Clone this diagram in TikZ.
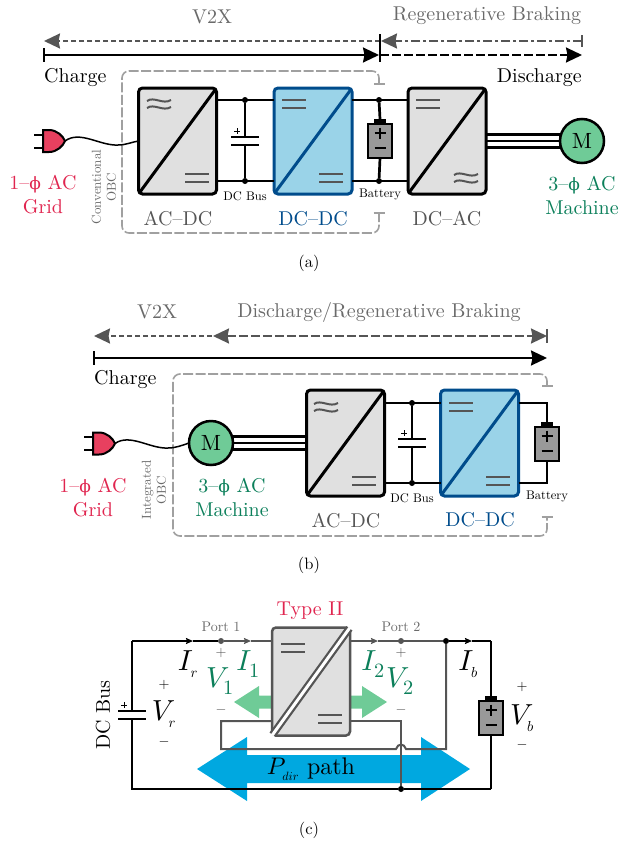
\RequirePackage{fix-cm}
\documentclass[tikz,border=0pt]{standalone}
\usepackage[no-math]{fontspec}
\setmainfont{lmroman10-regular}[Extension=.otf]
\newfontfamily\phifont{DejaVu Serif}
\DeclareFontShape{OML}{cmm}{m}{it}{<->cmmi10}{}
\DeclareFontShape{OT1}{cmr}{m}{n}{<->cmr10}{}
\newcommand{\phiglyph}{{\phifont\scalebox{.85}{ϕ}}}
\newcommand{\subl}[1]{_{\lower2.5pt\hbox{$\scriptscriptstyle #1$}}}
\newcommand{\subn}[1]{_{\lower2.5pt\hbox{$\scriptstyle #1$}}}
\usetikzlibrary{arrows.meta,calc}
\definecolor{convgray}{HTML}{E0E0E0}
\definecolor{dkgray}{HTML}{555555}
\definecolor{obcgray}{HTML}{A0A0A0}
\definecolor{lblgray}{HTML}{6A6A6A}
\definecolor{dcblue}{HTML}{004C8C}
\definecolor{dcfill}{HTML}{9AD3E8}
\definecolor{gridred}{HTML}{E0254F}
\definecolor{plugred}{HTML}{E8405F}
\definecolor{machgreen}{HTML}{0B7F5A}
\definecolor{motorgreen}{HTML}{6FCB97}
\definecolor{pathblue}{HTML}{00A8E0}
\definecolor{batgray}{HTML}{999999}
\tikzset{
 x=1pt,y=-1pt,
 conv/.style={draw=black,line width=3pt,rounded corners=4pt,fill=convgray,minimum width=78pt,minimum height=106pt,inner sep=0pt,outer sep=0pt},
 convb/.style={conv,draw=dcblue,fill=dcfill},
 diag/.style={line width=3pt,shorten >=1pt,shorten <=1pt},
 sym/.style={draw=dkgray,line width=2pt},
 wire/.style={line width=2.7pt,draw=black},
 thinwire/.style={line width=2pt,draw=black},
 gwire/.style={line width=2pt,draw=dkgray},
 jdot/.style={circle,fill=black,inner sep=0pt,minimum size=6pt},
 gdot/.style={circle,fill=dkgray,inner sep=0pt,minimum size=6pt},
 txt/.style={font=\fontsize{20}{24}\selectfont,align=center,inner sep=0pt},
 tiny/.style={font=\fontsize{12.5}{15}\selectfont,align=center,inner sep=0pt},
 port/.style={font=\fontsize{14}{15}\selectfont,text=lblgray,inner sep=0pt},
 obctxt/.style={font=\fontsize{13}{15}\selectfont,text=lblgray,align=center,inner sep=0pt,rotate=90},
 eqn/.style={font=\fontsize{29}{32}\selectfont,inner sep=0pt},
 pm/.style={font=\fontsize{14}{16}\selectfont,inner sep=0pt},
 motor/.style={circle,draw=black,line width=2.5pt,fill=motorgreen,minimum size=44pt,inner sep=0pt,outer sep=0pt,font=\fontsize{22}{24}\selectfont},
 batbody/.style={draw=black,line width=1.2pt,fill=batgray,minimum width=24pt,minimum height=34pt,inner sep=0pt,outer sep=0pt},
 batcap/.style={fill=black,minimum width=12.5pt,minimum height=5pt,inner sep=0pt,outer sep=0pt,anchor=south},
 obcline/.style={draw=obcgray,line width=1.6pt,dash pattern=on 10pt off 2.5pt,rounded corners=7pt,{Bar[width=11pt,line width=1.6pt]}-{Bar[width=11pt,line width=1.6pt]}},
 bigtip/.tip={Stealth[length=16pt,width=15pt,inset=1.5pt]},
 smalltip/.tip={Stealth[length=7pt,width=6pt,inset=1pt]},
 flow/.style={line width=2pt,draw=black},
 gflow/.style={line width=2pt,draw=dkgray,text=dkgray,color=dkgray},
}
\newcommand{\acmark}[2]{\begin{scope}[shift={(#1,#2)}]
 \draw[sym] (-12,-3) .. controls (-5,-8) and (4,1) .. (12,-4);
 \draw[sym] (-12,4) .. controls (-5,-1) and (4,8) .. (12,3);
\end{scope}}
\newcommand{\dcmark}[2]{\begin{scope}[shift={(#1,#2)}]
 \draw[sym] (-12,-4) -- (12,-4);
 \draw[sym] (-12,4) -- (12,4);
\end{scope}}
\newcommand{\batsym}[3]{\node[batbody] (#1) at (#2,#3) {};
 \node[batcap] (#1cap) at (#1.north) {};
 \begin{scope}[shift={(#2,#3)}]
 \draw[line width=1.1pt] (-5.5,-8) -- (5.5,-8) (0,-13.5) -- (0,-2.5);
 \draw[line width=1.1pt] (-5.5,7) -- (5.5,7);
 \end{scope}}
\newcommand{\plugsym}[3]{\begin{scope}[shift={(#2,#3)}]
 \draw[line width=2pt] (-9,-6.5) -- (0,-6.5) (-9,6.5) -- (0,6.5);
 \draw[line width=2pt,fill=plugred] (0,-11) -- (6,-11) .. controls (14,-11) and (20,-5) .. (22,0) .. controls (20,5) and (14,11) .. (6,11) -- (0,11) -- cycle;
 \coordinate (#1) at (22,0);
\end{scope}}
\newcommand{\capsym}[3]{\begin{scope}[shift={(#2,#3)}]
 \draw[line width=2.5pt] (-14,-4) -- (14,-4) (-14,4) -- (14,4);
 \coordinate (#1t) at (0,-4); \coordinate (#1b) at (0,4);
 \draw[line width=.8pt] (-11,-10) -- (-5,-10) (-8,-13) -- (-8,-7);
\end{scope}}
\begin{document}
\begin{tikzpicture}
\useasboundingbox (0,0) rectangle (619,841);
% ---------- (a)
\coordinate (a0) at (44,55); \coordinate (am) at (380,55); \coordinate (a1) at (582,55);
\coordinate (v0) at (44,41); \coordinate (vm) at (380,41); \coordinate (v1) at (582,41);
\node[txt,text=lblgray] (aV) at (212,17) {V2X};
\node[txt,text=lblgray] (aR) at (487,16) {Regenerative Braking};
\draw[gflow,dash pattern=on 5pt off 3pt,-bigtip] (vm) -- (v0);
\draw[gflow,dash pattern=on 9pt off 3pt on 3pt off 3pt,-bigtip] (v1) -- ([xshift=1pt]vm);
\draw[gflow] ($(v1)+(0,-6)$) -- ($(v1)+(0,6)$);
\draw[flow,-bigtip] (a0) -- ([xshift=-1pt]am);
\draw[flow] ($(a0)+(0,-7)$) -- ($(a0)+(0,7)$);
\draw[flow,dash pattern=on 9pt off 3pt,-bigtip] (am) -- (a1);
\draw[line width=1.5pt] (380,34) -- (380,62);
\node[txt,anchor=west] (aC) at (44,78) {Charge};
\node[txt,anchor=east] (aD) at (582,78) {Discharge};
\draw[obcline] (379,85) -- (379,71) -- (122,71) -- (122,233) -- (379,233) -- (379,212);
\node[obctxt] (aO) at (104,187) {Conventional\\OBC};
\node[conv] (ad) at (177.5,141) {};
\node[convb] (dd) at (313,141) {};
\node[conv] (da) at (447,141) {};
\draw[diag] (ad.south west) -- (ad.north east);
\draw[diag,draw=dcblue] (dd.south west) -- (dd.north east);
\draw[diag] (da.south west) -- (da.north east);
\acmark{159}{104}\dcmark{197}{178}
\dcmark{294}{104}\dcmark{331}{178}
\dcmark{428}{104}\acmark{466}{178}
\node[jdot] (j1) at (245,100) {}; \node[jdot] (j2) at (245,181) {};
\node[jdot] (j3) at (379,100) {}; \node[jdot] (j4) at (379,181) {};
\draw[wire] (ad.east |- j1) -- (dd.west |- j1);
\draw[wire] (ad.east |- j2) -- (dd.west |- j2);
\draw[wire] (dd.east |- j3) -- (da.west |- j3);
\draw[wire] (dd.east |- j4) -- (da.west |- j4);
\capsym{ca}{245}{141}{}
\draw[wire] (j1) -- (cat); \draw[wire] (cab) -- (j2);
\batsym{ba}{380}{141}
\draw[wire] (j3) -- (bacap.north); \draw[wire] (ba.south) -- (j4);
\node[tiny] (aB) at (245,196) {DC Bus};
\node[tiny] (aT) at (380,195) {Battery};
\node[motor] (ma) at (582,141) {M};
\draw[wire] ([yshift=6.5pt]da.east) -- ([xshift=2pt,yshift=6.5pt]ma.west);
\draw[wire] (da.east) -- (ma.west);
\draw[wire] ([yshift=-6.5pt]da.east) -- ([xshift=2pt,yshift=-6.5pt]ma.west);
\plugsym{pa}{43}{141}
\draw[line width=1.5pt] (pa) .. controls (80,130) and (100,146) .. (118,145) .. controls (126,145) and (132,142) .. (ad.west);
\node[txt,text=gridred] (aG) at (43,195) {1\textendash\phiglyph{} AC\\Grid};
\node[txt,text=machgreen] (aM) at (582,195) {3\textendash\phiglyph{} AC\\Machine};
\node[txt,text=dkgray] (al1) at (178,219) {AC\textendash DC};
\node[txt,text=dcblue] (al2) at (313,219) {DC\textendash DC};
\node[txt,text=dkgray] (al3) at (447,219) {DC\textendash AC};
\node[font=\fontsize{16.5}{18}\selectfont,inner sep=0pt] (capa) at (309,263) {(a)};
% ---------- (b)
\coordinate (b0) at (94,358); \coordinate (b1) at (547,358);
\coordinate (w0) at (94,336); \coordinate (wm) at (212,336); \coordinate (w1) at (547,336);
\node[txt,text=lblgray] (bV) at (157,312) {V2X};
\node[txt,text=lblgray] (bR) at (379,312) {Discharge/Regenerative Braking};
\draw[gflow,dash pattern=on 5pt off 3pt,-bigtip] (wm) -- (w0);
\draw[gflow,dash pattern=on 9pt off 3pt,bigtip-bigtip] ([xshift=1pt]wm) -- (w1);
\draw[gflow] ($(w1)+(0,-7)$) -- ($(w1)+(0,7)$);
\draw[flow,-bigtip] (b0) -- (b1);
\draw[flow] ($(b0)+(0,-7)$) -- ($(b0)+(0,7)$);
\node[txt,anchor=west] (bC) at (94,380) {Charge};
\draw[obcline] (547,387) -- (547,374) -- (173,374) -- (173,536) -- (547,536) -- (547,516);
\node[obctxt] (bO) at (154,490) {Integrated\\OBC};
\node[conv] (bad) at (345.5,443) {};
\node[convb] (bdd) at (479.5,443) {};
\draw[diag] (bad.south west) -- (bad.north east);
\draw[diag,draw=dcblue] (bdd.south west) -- (bdd.north east);
\acmark{326}{407}\dcmark{364}{481}
\dcmark{461}{407}\dcmark{498}{481}
\node[jdot] (k1) at (412,403) {}; \node[jdot] (k2) at (412,483) {};
\draw[wire] (bad.east |- k1) -- (bdd.west |- k1);
\draw[wire] (bad.east |- k2) -- (bdd.west |- k2);
\capsym{cb}{412}{443}{}
\draw[wire] (k1) -- (cbt); \draw[wire] (cbb) -- (k2);
\batsym{bb}{547}{444}
\coordinate (bt) at (547,403); \coordinate (bu) at (547,483);
\draw[thinwire] (bdd.east |- bt) -- (bt) -- (bbcap.north);
\draw[thinwire] (bdd.east |- bu) -- (bu) -- (bb.south);
\node[tiny] (bB) at (412,498) {DC Bus};
\node[tiny] (bT) at (547,497) {Battery};
\node[motor] (mb) at (211,443) {M};
\draw[wire] ([yshift=6.5pt,xshift=-2pt]mb.east) -- ([yshift=6.5pt]bad.west);
\draw[wire] (mb.east) -- (bad.west);
\draw[wire] ([yshift=-6.5pt,xshift=-2pt]mb.east) -- ([yshift=-6.5pt]bad.west);
\plugsym{pb}{93}{443.5}
\draw[line width=1.5pt] (pb) .. controls (130,433) and (150,449) .. (168,448) .. controls (176,448) and (183,445) .. (mb.west);
\node[txt,text=gridred] (bG) at (93,498) {1\textendash\phiglyph{} AC\\Grid};
\node[txt,text=machgreen] (bM) at (232,497) {3\textendash\phiglyph{} AC\\Machine};
\node[txt,text=dkgray] (bl1) at (346,521) {AC\textendash DC};
\node[txt,text=dcblue] (bl2) at (480,520) {DC\textendash DC};
\node[font=\fontsize{16.5}{18}\selectfont,inner sep=0pt] (capb) at (309,565) {(b)};
% ---------- (c)
\fill[pathblue] (197,769) -- (247,737) -- (247,755) -- (421,755) -- (421,737) -- (470,769) -- (421,801) -- (421,783) -- (247,783) -- (247,801) -- cycle;
\fill[motorgreen] (234,702) -- (259,686) -- (259,695.5) -- (275,695.5) -- (275,708.5) -- (259,708.5) -- (259,718) -- cycle;
\fill[motorgreen] (387,702) -- (362,686) -- (362,695.5) -- (347,695.5) -- (347,708.5) -- (362,708.5) -- (362,718) -- cycle;
\coordinate (tl) at (132,641); \coordinate (bl) at (132,789);
\coordinate (tr) at (491,641); \coordinate (br) at (491,789);
\node[gdot] (p1) at (221,641) {}; \node[gdot] (p2) at (401,641) {};
\node[jdot] (jj) at (446,641) {}; \node[jdot] (kk) at (401,789) {};
\node[conv,draw=dkgray,line width=2.5pt,minimum width=78pt,minimum height=108pt] (t2) at (311,681.5) {};
\coordinate (m1) at (193,641); \coordinate (m2) at (251,641); \coordinate (m3) at (378,641); \coordinate (m4) at (472,641);
\draw[line width=2pt,-smalltip] (tl) -- (m1);
\draw[line width=2pt] (m1) -- (p1);
\draw[gwire,-smalltip] (p1) -- (m2);
\draw[gwire] (m2) -- (t2.west |- p1);
\draw[gwire,-smalltip] (t2.east |- p2) -- (m3);
\draw[gwire] (m3) -- (jj);
\draw[line width=2pt,-smalltip] (jj) -- (m4);
\draw[line width=2pt] (m4) -- (tr);
\capsym{cc}{132}{715}{}
\draw[line width=2pt] (tl) -- (cct);
\draw[line width=2pt] (ccb) -- (bl) -- (kk) -- (br);
\batsym{bc}{491}{718}
\draw[line width=2pt] (tr) -- (bccap.north);
\draw[line width=2pt] (bc.south) -- (br);
\coordinate (lw1) at (272,721); \coordinate (lw2) at (221,721); \coordinate (lw3) at (221,749);
\coordinate (lw4) at (396,749); \coordinate (lw5) at (406,749); \coordinate (lw6) at (446,749);
\coordinate (rw1) at (350,721); \coordinate (rw2) at (401,721);
\draw[gwire] (t2.west |- lw1) -- (lw2) -- (lw3) -- (lw4) .. controls (398,743) and (404,743) .. (lw5) -- (lw6) -- (jj);
\draw[gwire] (t2.east |- rw1) -- (rw2) -- (kk);
\draw[draw=dkgray,line width=7.5pt,shorten >=1pt,shorten <=1pt] (t2.south west) -- (t2.north east);
\draw[draw=white,line width=3pt] (t2.south west) -- (t2.north east);
\dcmark{293}{648}\dcmark{330}{719}
\node[txt,text=gridred] (tt) at (310,611) {Type II};
\node[port] (pl1) at (221,627) {Port 1};
\node[port] (pl2) at (401,627) {Port 2};
\node[pm,text=dkgray] (s1) at (221,653) {$+$};
\node[pm,text=dkgray] (s2) at (221,710) {$-$};
\node[pm,text=dkgray] (s3) at (401,653) {$+$};
\node[pm,text=dkgray] (s4) at (401,710) {$-$};
\node[pm] (s5) at (164,685) {$+$};
\node[pm] (s6) at (164,742) {$-$};
\node[pm] (s7) at (522,687) {$+$};
\node[pm] (s8) at (522,745) {$-$};
\node[eqn,text=machgreen] (V1) at (220,681) {$V\subn{1}$};
\node[eqn,text=machgreen] (V2) at (400,681) {$V\subn{2}$};
\node[eqn,text=machgreen] (I1) at (248,664) {$I\subn{1}$};
\node[eqn,text=machgreen] (I2) at (373,664) {$I\subn{2}$};
\node[eqn] (Ir) at (188,664) {$I\subl{r}$};
\node[eqn] (Ib) at (468,664) {$I\subl{b}$};
\node[eqn] (Vr) at (164,714) {$V\subl{r}$};
\node[eqn] (Vb) at (522,718) {$V\subl{b}$};
\node[font=\fontsize{20}{22}\selectfont,inner sep=0pt,rotate=90] (dcb) at (103,715) {DC Bus};
\node[font=\fontsize{24}{26}\selectfont,inner sep=0pt] (pd) at (311,769) {$P\subl{dir}$ path};
\node[font=\fontsize{16.5}{18}\selectfont,inner sep=0pt] (capc) at (309,830) {(c)};
\end{tikzpicture}
\end{document}
